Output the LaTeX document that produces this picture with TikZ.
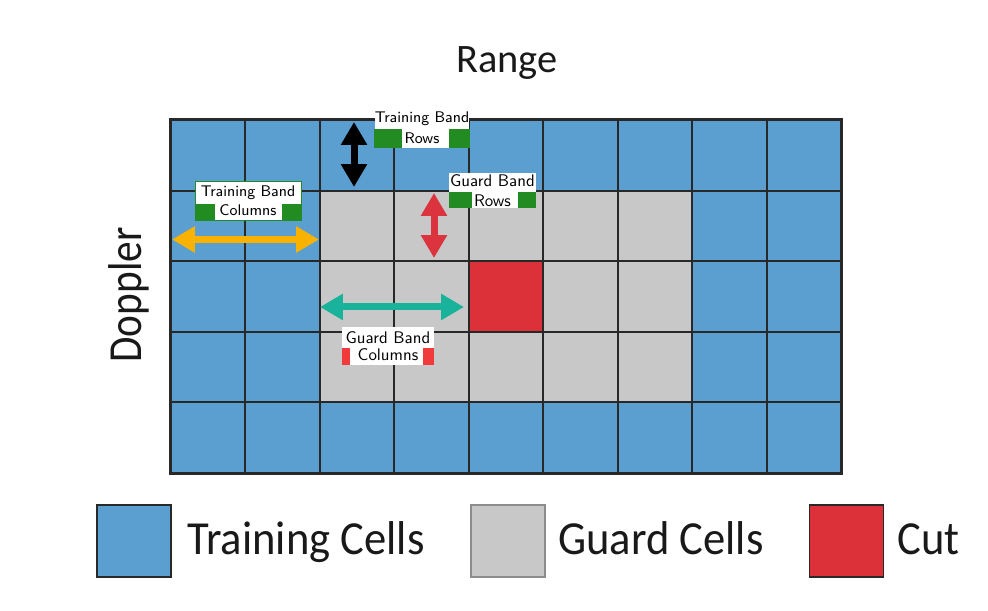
\documentclass[tikz,border=0pt]{standalone}
\usepackage{fontspec}
\newfontfamily\rangefont{Carlito}
\newfontfamily\legendfont[FakeStretch=0.94]{Carlito}
\newfontfamily\dopplerfont[FakeStretch=0.87]{Carlito}
\usetikzlibrary{arrows.meta,positioning,calc}

\definecolor{trainblue}{RGB}{91,159,208}
\definecolor{guardgrey}{RGB}{200,200,200}
\definecolor{cutred}{RGB}{221,49,58}
\definecolor{bandgreen}{RGB}{34,139,34}
\definecolor{bandred}{RGB}{240,58,60}
\definecolor{arroworange}{RGB}{250,178,0}
\definecolor{arrowteal}{RGB}{25,178,155}
\definecolor{arrowred}{RGB}{220,52,62}
\definecolor{gridline}{RGB}{40,40,40}

\begin{document}
\begin{tikzpicture}[
    x=0.02cm, y=-0.02cm,
    cell/.style={draw=gridline, line width=1.1pt, minimum width=1.4889cm, minimum height=1.412cm, inner sep=0pt, fill=trainblue},
    bandlabel/.style={fill=white, inner sep=0pt, align=center, font=\sffamily\fontsize{8.8}{11}\selectfont},
    dblarrow/.style={line width=0.14cm, {Triangle[length=0.46cm, width=0.5cm]}-{Triangle[length=0.46cm, width=0.5cm]}},
    legendbox/.style={draw=gridline, line width=1.1pt, minimum width=1.48cm, minimum height=1.44cm, inner sep=0pt},
    legendtext/.style={anchor=base west, inner sep=0pt, font=\legendfont\fontsize{27}{30}\selectfont, text=black!90}
]
\useasboundingbox (0,0) rectangle (988,611);

% Range-Doppler grid
\foreach \col in {0,...,8}
  \foreach \row in {0,...,4}
    \node[cell] (c-\col-\row) at ({171+74.444*(\col+0.5)},{120+70.6*(\row+0.5)}) {};
\foreach \col in {2,...,6}
  \foreach \row in {1,2,3}
    \node[cell, fill=guardgrey] at (c-\col-\row) {};
\node[cell, fill=cutred] (cut) at (c-4-2) {};
\draw[gridline, line width=1.5pt] (c-0-0.north west) rectangle (c-8-4.south east);

% axis titles
\node[anchor=base, inner sep=0pt, font=\rangefont\fontsize{23}{26}\selectfont, text=black!90] (range) at (507,73) {Range};
\node[anchor=base, rotate=90, inner sep=0pt, font=\dopplerfont\fontsize{27}{30}\selectfont, text=black!90] (doppler) at (141,295) {Doppler};

% band arrows
\coordinate (tr-top) at (354,122);
\coordinate (tr-bot) at (354,187);
\coordinate (tc-left) at (172,239.5);
\coordinate (tc-right) at (319,239.5);
\coordinate (gr-top) at (434,193);
\coordinate (gr-bot) at (434,258);
\coordinate (gc-left) at (320,307);
\coordinate (gc-right) at (464,307);
\draw[dblarrow, black] (tr-top) -- (tr-bot);
\draw[dblarrow, arroworange] (tc-left) -- (tc-right);
\draw[dblarrow, arrowred] (gr-top) -- (gr-bot);
\draw[dblarrow, arrowteal] (gc-left) -- (gc-right);

% band labels
\node[bandlabel, minimum width=1.88cm, minimum height=0.8cm, font=\sffamily\fontsize{8.8}{12}\selectfont] (tbr) at (422,128) {Training Band\\Rows};
\fill[bandgreen] (tbr.south west) rectangle ++(28,-19);
\fill[bandgreen] (tbr.south east) rectangle ++(-21,-19);

\node[bandlabel, draw=bandgreen, line width=0.5pt, minimum width=2.12cm, minimum height=0.78cm] (tbc) at (248,200.5) {Training Band\\Columns};
\fill[bandgreen] (tbc.south west) rectangle ++(20,-16);
\fill[bandgreen] (tbc.south east) rectangle ++(-19,-16);

\node[bandlabel, minimum width=1.74cm, minimum height=0.7cm, font=\sffamily\fontsize{9.6}{11.4}\selectfont] (gbr) at (492.5,190.5) {Guard Band\\Rows};
\fill[bandgreen] (gbr.south west) rectangle ++(23,-16);
\fill[bandgreen] (gbr.south east) rectangle ++(-18,-16);

\node[bandlabel, minimum width=1.84cm, minimum height=0.76cm, font=\sffamily\fontsize{9.6}{10}\selectfont] (gbc) at (388,346) {Guard Band\\Columns};
\fill[bandred] (gbc.south west) rectangle ++(8,-17);
\fill[bandred] (gbc.south east) rectangle ++(-11,-17);

% legend
\node[legendbox, fill=trainblue] (leg-train) at (134,541) {};
\node[legendtext] (leg-train-txt) at (187,554) {Training Cells};
\node[legendbox, fill=guardgrey, draw=black!45] (leg-guard) at (508,541) {};
\node[legendtext] (leg-guard-txt) at (558,554) {Guard Cells};
\node[legendbox, fill=cutred] (leg-cut) at (846.5,541) {};
\node[legendtext] (leg-cut-txt) at (897,554) {Cut};

\end{tikzpicture}
\end{document}
